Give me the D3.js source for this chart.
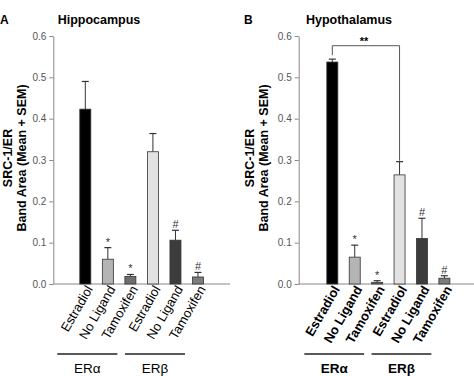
<!DOCTYPE html>
<html>
<head>
<meta charset="utf-8">
<script src="https://cdn.jsdelivr.net/npm/d3@7"></script>
<style>
  body { margin: 0; background: #fff; }
  svg { display: block; font-family: Arial, "Liberation Sans", sans-serif; }
</style>
</head>
<body>
<div id="chart"></div>
<script>
// data
const categories = ["Estradiol", "No Ligand", "Tamoxifen", "Estradiol", "No Ligand", "Tamoxifen"];
const groups = ["ERα", "ERβ"];
const barColors = ["#000000", "#b4b4b4", "#6e6e6e", "#e2e2e2", "#3c3c3c", "#7c7c7c"];
const yTicks = [0, 0.1, 0.2, 0.3, 0.4, 0.5, 0.6];

const hippoMean = [0.423, 0.060, 0.018, 0.320, 0.106, 0.017];
const hippoSem  = [0.067, 0.028, 0.005, 0.044, 0.024, 0.011];
const hippoMark = ["", "*", "*", "", "#", "#"];

const hypoMean = [0.537, 0.065, 0.004, 0.264, 0.110, 0.014];
const hypoSem  = [0.007, 0.029, 0.004, 0.032, 0.049, 0.006];
const hypoMark = ["", "*", "*", "", "#", "#"];

const W = 474, H = 376;
const svg = d3.select("#chart").append("svg")
    .attr("width", W)
    .attr("height", H);

function drawPanel(opt) {
    let y = d3.scaleLinear()
        .domain([0, 0.6])
        .range([284, 36]);

    let x = d3.scalePoint()
        .domain(d3.range(categories.length))
        .range([opt.x0, opt.x1])
        .padding(opt.pad);

    let g = svg.append("g");
    let barW = 11;

    // panel letter + title
    g.append("text")
        .attr("x", opt.letterX).attr("y", 24)
        .attr("font-size", 12).attr("font-weight", "bold")
        .text(opt.letter);
    g.append("text")
        .attr("x", opt.titleX).attr("y", 24)
        .attr("text-anchor", "middle")
        .attr("font-size", 12.5).attr("font-weight", "bold")
        .text(opt.title);

    // y axis
    let yAxis = g.append("g")
        .attr("transform", `translate(${opt.x0},0)`)
        .call(d3.axisLeft(y).tickValues(yTicks).tickFormat(d3.format(".1f")).tickSize(4).tickSizeOuter(0));
    yAxis.selectAll("path, line").attr("stroke", "#888");
    yAxis.selectAll("text").attr("fill", "#555").attr("font-size", 10)
        .attr("font-family", "Arial, 'Liberation Sans', sans-serif");

    // x axis line
    let xAxis = g.append("g")
        .attr("transform", `translate(0,${y(0)})`)
        .call(d3.axisBottom(x).tickSize(0).tickFormat(""));
    xAxis.select("path").attr("stroke", "#888").attr("d", `M${opt.x0},0H${opt.axisEnd}`);

    // y label
    let yl = g.append("text")
        .attr("transform", `translate(${opt.ylabX},158) rotate(-90)`)
        .attr("text-anchor", "middle")
        .attr("font-size", 12.5).attr("font-weight", "bold");
    yl.append("tspan").attr("x", 0).attr("dy", 0).text("SRC-1/ER");
    yl.append("tspan").attr("x", 0).attr("dy", 14).text("Band Area (Mean + SEM)");

    let idx = d3.range(categories.length);

    // error bars
    g.selectAll(".err")
        .data(idx)
        .enter().append("line")
        .attr("class", "err")
        .attr("x1", i => x(i)).attr("x2", i => x(i))
        .attr("y1", i => y(opt.mean[i]))
        .attr("y2", i => y(opt.mean[i] + opt.sem[i]))
        .attr("stroke", "#333").attr("stroke-width", 1);
    g.selectAll(".cap")
        .data(idx)
        .enter().append("line")
        .attr("class", "cap")
        .attr("x1", i => x(i) - 3.5).attr("x2", i => x(i) + 3.5)
        .attr("y1", i => y(opt.mean[i] + opt.sem[i]))
        .attr("y2", i => y(opt.mean[i] + opt.sem[i]))
        .attr("stroke", "#333").attr("stroke-width", 1.2);

    // bars
    g.selectAll(".bar")
        .data(idx)
        .enter().append("rect")
        .attr("class", "bar")
        .attr("x", i => x(i) - barW / 2)
        .attr("y", i => y(opt.mean[i]))
        .attr("width", barW)
        .attr("height", i => y(0) - y(opt.mean[i]))
        .attr("fill", i => barColors[i])
        .attr("stroke", "#333").attr("stroke-width", 0.8);

    // significance marks
    g.selectAll(".mark")
        .data(idx)
        .enter().append("text")
        .attr("class", "mark")
        .attr("x", i => x(i))
        .attr("y", i => y(opt.mean[i] + opt.sem[i]) - 2)
        .attr("text-anchor", "middle")
        .attr("font-size", 11)
        .attr("fill", "#333")
        .text(i => opt.mark[i]);

    // category labels
    g.selectAll(".cat")
        .data(idx)
        .enter().append("text")
        .attr("class", "cat")
        .attr("text-anchor", "end")
        .attr("transform", i => `translate(${x(i) + 8},${y(0) + 5}) rotate(-60)`)
        .attr("font-size", 13)
        .attr("font-weight", opt.catWeight)
        .text(i => categories[i]);

    // group lines + labels
    groups.forEach(function (name, k) {
        let a = x(k * 3) - 28, b = x(k * 3 + 2) - 13;
        g.append("line")
            .attr("x1", a).attr("x2", b)
            .attr("y1", 354).attr("y2", 354)
            .attr("stroke", "#222").attr("stroke-width", 1.3);
        g.append("text")
            .attr("x", (a + b) / 2).attr("y", 373)
            .attr("text-anchor", "middle")
            .attr("font-size", 13.5)
            .attr("font-weight", opt.catWeight)
            .text(name);
    });

    return {x: x, y: y, g: g};
}

drawPanel({
    letter: "A", letterX: 0, title: "Hippocampus", titleX: 99,
    x0: 53.3, x1: 230, axisEnd: 230, pad: 1.42, ylabX: 12,
    mean: hippoMean, sem: hippoSem, mark: hippoMark, catWeight: "normal"
});

let pB = drawPanel({
    letter: "B", letterX: 244, title: "Hypothalamus", titleX: 349,
    x0: 298.7, x1: 478, axisEnd: 474, pad: 1.5, ylabX: 254,
    mean: hypoMean, sem: hypoSem, mark: hypoMark, catWeight: "bold"
});

// bracket between ERα and ERβ estradiol (hypothalamus)
let bx1 = pB.x(0), bx2 = pB.x(3), by = 45.7;
pB.g.append("path")
    .attr("d", `M${bx1},${pB.y(hypoMean[0] + hypoSem[0]) - 4}V${by}H${bx2}V${pB.y(hypoMean[3] + hypoSem[3]) - 1}`)
    .attr("fill", "none").attr("stroke", "#555").attr("stroke-width", 1);
pB.g.append("text")
    .attr("x", (bx1 + bx2) / 2 - 2).attr("y", 45)
    .attr("text-anchor", "middle")
    .attr("font-size", 11).attr("font-weight", "bold")
    .text("**");
</script>
</body>
</html>
